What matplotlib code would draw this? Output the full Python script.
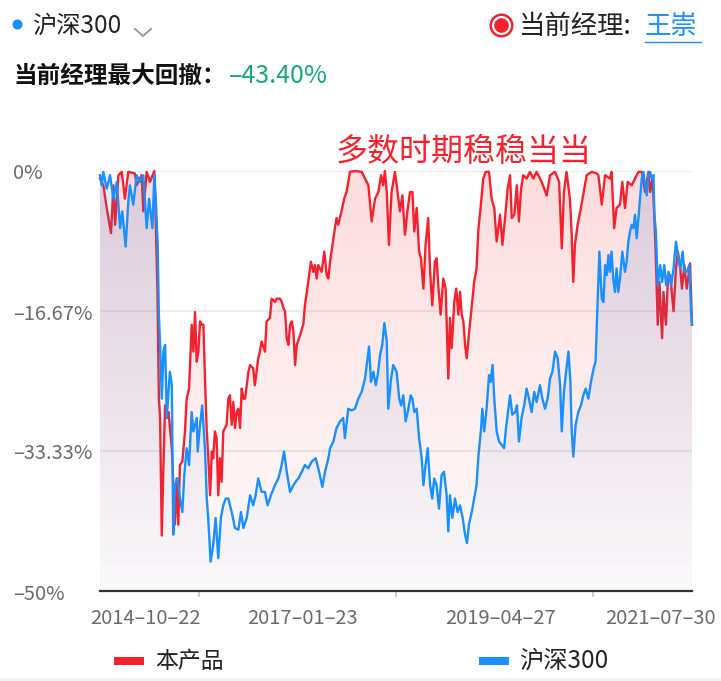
import numpy as np
import pandas as pd
import matplotlib
matplotlib.use("Agg")
import matplotlib.pyplot as plt
import matplotlib.dates as mdates
import matplotlib.transforms as mtrans
from matplotlib.patches import PathPatch, Rectangle
from matplotlib.lines import Line2D

plt.rcParams['font.family'] = ['Noto Sans CJK SC', 'DejaVu Sans']

# ---- data: drawdown (%) vs. days since 2014-10-22 ----
start_date = "2014-10-22"
end_date = "2021-07-30"

red_day = [0, 14, 28, 46, 56, 63, 77, 91, 104, 118,
           146, 153, 174, 181, 195, 209, 227, 234, 240, 246,
           251, 258, 265, 272, 279, 286, 300, 313, 320, 327,
           334, 344, 355, 362, 372, 383, 390, 397, 404, 411,
           418, 425, 432, 439, 446, 452, 460, 467, 473, 480,
           487, 494, 501, 508, 515, 522, 529, 536, 543, 550,
           557, 564, 571, 578, 585, 592, 599, 606, 613, 620,
           627, 640, 647, 654, 661, 668, 675, 689, 696, 710,
           717, 731, 738, 752, 759, 766, 773, 780, 787, 794,
           801, 808, 815, 822, 836, 849, 856, 870, 881, 891,
           898, 905, 912, 926, 937, 947, 954, 961, 975, 988,
           995, 1009, 1020, 1030, 1044, 1065, 1093, 1107, 1121, 1135,
           1149, 1163, 1174, 1183, 1190, 1198, 1207, 1218, 1232, 1243,
           1253, 1263, 1274, 1284, 1295, 1305, 1313, 1323, 1333, 1341,
           1351, 1360, 1371, 1379, 1388, 1399, 1406, 1413, 1423, 1434,
           1444, 1455, 1462, 1469, 1480, 1488, 1497, 1504, 1511, 1518,
           1525, 1532, 1541, 1553, 1563, 1573, 1580, 1592, 1601, 1611,
           1625, 1636, 1647, 1657, 1671, 1681, 1692, 1703, 1713, 1720,
           1731, 1741, 1750, 1759, 1768, 1782, 1796, 1810, 1824, 1845,
           1866, 1880, 1901, 1918, 1929, 1938, 1949, 1963, 1970, 1977,
           1984, 1995, 2009, 2023, 2033, 2054, 2075, 2082, 2096, 2110,
           2130, 2137, 2148, 2158, 2172, 2182, 2193, 2204, 2221, 2235,
           2249, 2263, 2277, 2291, 2298, 2308, 2316, 2322, 2330, 2337,
           2348, 2354, 2364, 2372, 2382, 2396, 2406, 2414, 2424, 2431,
           2441, 2451, 2465, 2473]
red_dd = [-0.9, -1.7, -4.4, -7.4, -1.7, -6.4, -0.5, -0.1, -3.3, -0.1,
          -0.3, -1.7, -0.5, -4.8, -0.1, -1.3, 0.0, -7.2, -14.4, -27.1,
          -29.4, -43.4, -35.0, -27.9, -29.4, -28.7, -33.0, -42.1, -36.6, -42.1,
          -35.0, -34.6, -31.0, -27.1, -25.9, -18.3, -21.5, -16.8, -22.7, -21.5,
          -17.9, -18.3, -18.3, -25.1, -31.0, -33.8, -38.6, -33.4, -34.2, -31.0,
          -31.8, -38.6, -34.2, -37.0, -31.0, -30.6, -30.2, -27.1, -26.7, -30.2,
          -27.5, -30.6, -28.7, -28.3, -30.6, -25.9, -27.1, -27.1, -25.5, -23.9,
          -23.1, -23.5, -25.5, -23.9, -22.3, -21.5, -20.3, -21.5, -17.9, -17.5,
          -15.2, -15.6, -15.2, -15.2, -15.6, -16.3, -16.7, -19.9, -20.7, -18.3,
          -17.9, -19.1, -23.1, -20.7, -19.5, -18.3, -16.0, -13.2, -10.8, -12.0,
          -11.2, -12.8, -11.2, -12.0, -9.6, -12.4, -12.8, -10.8, -8.0, -5.6,
          -6.4, -4.8, -3.3, -2.5, -0.1, 0.0, -0.1, -0.9, -1.7, -6.0,
          -3.3, -2.5, -0.5, -1.7, 0.0, -2.5, -8.8, -2.5, -0.1, -2.5,
          -4.8, -2.9, -7.6, -4.8, -2.5, -2.5, -7.2, -4.4, -9.6, -10.4,
          -14.0, -8.8, -5.6, -12.0, -16.0, -10.8, -10.4, -13.6, -17.1, -12.8,
          -14.0, -24.7, -17.5, -21.1, -15.6, -14.0, -17.1, -14.4, -17.1, -17.9,
          -20.7, -22.3, -19.5, -16.0, -13.2, -11.6, -7.2, -3.7, -0.9, -0.1,
          -0.1, -3.3, -4.4, -8.4, -5.2, -8.8, -5.6, -2.1, -0.5, -5.6,
          -5.2, -1.7, -6.0, -2.1, -0.5, -0.9, -0.1, -0.9, -0.1, -1.3,
          -2.9, -0.5, -0.1, -1.3, -9.2, -2.5, -0.1, -3.3, -7.2, -13.2,
          -8.8, -6.4, -4.4, -2.1, -0.5, -0.1, -0.3, -0.5, -4.0, -0.5,
          -0.9, -0.1, -6.8, -4.4, -4.0, -1.3, -4.4, -1.3, -1.7, -0.9,
          -0.1, -0.1, -2.5, -0.1, -2.5, -0.9, -5.6, -10.4, -18.3, -13.2,
          -19.9, -14.4, -18.3, -13.2, -12.4, -16.7, -11.6, -9.6, -11.6, -14.0,
          -11.2, -14.0, -11.0, -18.3]

blue_day = [0, 7, 14, 28, 42, 56, 70, 84, 93, 107,
            118, 125, 139, 153, 167, 181, 195, 205, 219, 227,
            233, 241, 246, 252, 258, 265, 272, 279, 286, 292,
            300, 306, 313, 324, 334, 344, 352, 362, 372, 383,
            390, 404, 408, 418, 427, 439, 446, 452, 462, 473,
            483, 494, 505, 515, 525, 536, 550, 564, 578, 589,
            599, 613, 627, 640, 650, 661, 675, 689, 700, 714,
            731, 745, 756, 769, 780, 794, 808, 822, 829, 843,
            856, 870, 884, 901, 912, 929, 940, 954, 961, 975,
            988, 1003, 1016, 1023, 1037, 1051, 1065, 1079, 1093, 1107,
            1114, 1124, 1132, 1142, 1152, 1160, 1170, 1179, 1188, 1198,
            1204, 1216, 1225, 1239, 1250, 1258, 1267, 1277, 1288, 1298,
            1305, 1313, 1323, 1333, 1344, 1351, 1360, 1369, 1379, 1388,
            1396, 1406, 1416, 1427, 1437, 1448, 1455, 1462, 1472, 1483,
            1494, 1504, 1515, 1525, 1533, 1541, 1553, 1563, 1573, 1580,
            1592, 1597, 1605, 1615, 1625, 1632, 1640, 1647, 1657, 1667,
            1678, 1688, 1696, 1706, 1713, 1722, 1734, 1742, 1750, 1761,
            1772, 1782, 1792, 1803, 1814, 1824, 1838, 1848, 1859, 1870,
            1880, 1890, 1901, 1912, 1922, 1929, 1938, 1947, 1957, 1965,
            1970, 1977, 1987, 1998, 2009, 2019, 2029, 2040, 2051, 2062,
            2070, 2079, 2086, 2096, 2103, 2110, 2117, 2124, 2130, 2137,
            2144, 2151, 2158, 2165, 2172, 2182, 2193, 2200, 2207, 2214,
            2221, 2228, 2235, 2242, 2249, 2263, 2270, 2277, 2284, 2291,
            2298, 2305, 2312, 2316, 2322, 2330, 2340, 2348, 2357, 2365,
            2375, 2386, 2396, 2406, 2414, 2424, 2434, 2441, 2451, 2462,
            2469, 2473]
blue_dd = [-0.5, -1.7, -0.1, -2.1, -0.5, -3.3, -1.3, -6.8, -4.8, -9.0,
           -3.7, -1.7, -4.0, -0.5, -1.3, -0.5, -6.8, -3.3, -6.8, -0.5,
           -3.3, -8.8, -17.1, -21.5, -27.1, -21.5, -20.7, -29.4, -26.3, -23.9,
           -25.5, -43.3, -37.4, -36.6, -39.0, -40.6, -36.2, -33.0, -35.0, -28.7,
           -31.0, -29.4, -33.4, -30.2, -27.9, -33.4, -39.0, -41.3, -46.5, -44.5,
           -41.3, -46.1, -41.3, -39.8, -39.0, -39.0, -40.6, -42.5, -42.7, -40.6,
           -42.5, -41.3, -38.6, -39.8, -38.6, -36.6, -38.2, -38.2, -39.8, -38.6,
           -37.4, -36.6, -35.4, -33.4, -35.8, -38.2, -37.4, -36.8, -36.6, -35.8,
           -35.0, -35.4, -34.6, -34.2, -35.4, -37.6, -35.8, -34.2, -33.0, -32.2,
           -30.6, -29.8, -29.4, -31.8, -28.3, -28.5, -28.3, -27.1, -26.3, -24.7,
           -23.1, -20.9, -25.1, -23.9, -25.5, -24.3, -21.9, -20.7, -18.1, -20.3,
           -28.3, -24.7, -23.1, -23.9, -27.1, -27.9, -26.7, -29.8, -28.3, -26.7,
           -27.1, -28.7, -28.3, -31.8, -34.2, -37.4, -35.0, -33.0, -37.4, -39.0,
           -36.6, -37.4, -40.2, -36.2, -35.8, -38.6, -42.9, -38.6, -41.3, -39.0,
           -40.6, -39.8, -41.3, -43.3, -44.3, -42.1, -40.6, -39.0, -37.4, -34.2,
           -30.6, -28.3, -31.0, -28.3, -24.3, -25.1, -23.1, -27.1, -31.0, -32.2,
           -32.6, -33.0, -30.6, -28.3, -26.7, -29.0, -28.7, -27.9, -32.2, -29.4,
           -27.9, -25.9, -27.1, -28.7, -26.3, -27.5, -25.5, -27.1, -28.3, -27.1,
           -24.7, -23.9, -21.5, -22.3, -25.5, -31.0, -26.3, -23.9, -21.5, -25.1,
           -30.6, -34.0, -30.2, -28.7, -27.9, -26.7, -25.9, -27.1, -25.1, -23.5,
           -22.7, -15.2, -9.6, -15.2, -15.6, -11.2, -12.4, -10.0, -12.0, -9.6,
           -12.8, -14.4, -11.6, -14.4, -12.8, -9.6, -12.0, -10.8, -8.4, -7.2,
           -6.4, -6.8, -5.2, -8.0, -5.6, -0.9, -0.1, -1.7, -2.9, -0.5,
           -0.1, -0.9, -0.5, -5.2, -7.2, -13.6, -11.2, -13.2, -11.2, -13.6,
           -12.0, -13.6, -11.6, -8.4, -10.0, -11.6, -9.6, -12.0, -12.0, -11.2,
           -16.7, -18.3]

y_ticks = [0, -16.67, -33.33, -50]
y_tick_labels = ["0%", "–16.67%", "–33.33%", "–50%"]
x_tick_labels = ["2014–10–22", "2017–01–23", "2019–04–27", "2021–07–30"]
series_names = ["本产品", "沪深300"]
max_dd_text = "–43.40%"

RED = "#f5222d"
BLUE = "#1890ff"
GREY_TXT = "#6b6b6b"

W, H = 721, 681


def fx(x):
    return x / W


def fy(y):
    return 1 - y / H


start = pd.Timestamp(start_date)
end = pd.Timestamp(end_date)
red_x = mdates.date2num(start + pd.to_timedelta(red_day, unit="D"))
blue_x = mdates.date2num(start + pd.to_timedelta(blue_day, unit="D"))
x0, x1 = mdates.date2num(start), mdates.date2num(end)

fig = plt.figure(figsize=(W / 100, H / 100), dpi=100)
ax = fig.add_axes([fx(100), fy(591), 592 / W, 420 / H])


def gradient_fill(x, y, rgb, a_top, a_bot, z):
    poly = ax.fill_between(x, y, -50, facecolor="none", edgecolor="none")
    path = poly.get_paths()[0]
    patch = PathPatch(path, transform=ax.transData, facecolor="none", edgecolor="none")
    ax.add_patch(patch)
    grad = np.zeros((256, 1, 4))
    grad[..., :3] = matplotlib.colors.to_rgb(rgb)
    grad[..., 3] = np.linspace(a_top, a_bot, 256)[:, None]
    im = ax.imshow(grad, aspect="auto", extent=[x0, x1, -50, 0], origin="upper", zorder=z)
    im.set_clip_path(patch)


for yv in y_ticks[:-1]:
    ax.axhline(yv, color="#ececec", lw=1.5, zorder=0.5)

gradient_fill(red_x, red_dd, RED, 0.16, 0.015, 1)
ax.plot(red_x, red_dd, color=RED, lw=1.7, zorder=2, clip_on=False, solid_joinstyle="round")
gradient_fill(blue_x, blue_dd, "#1f6fd0", 0.15, 0.015, 3)
ax.plot(blue_x, blue_dd, color=BLUE, lw=1.7, zorder=4, clip_on=False, solid_joinstyle="round")

ax.set_xlim(x0, x1)
ax.set_ylim(-50, 0)
for s in ["top", "right", "left"]:
    ax.spines[s].set_visible(False)
ax.spines["bottom"].set_color("#333333")
ax.spines["bottom"].set_linewidth(1.6)
ax.spines["bottom"].set_zorder(5)
ax.set_yticks([])
span = x1 - x0
ax.set_xticks([x0 + span / 6, x0 + span / 2, x0 + 5 * span / 6])
ax.set_xticklabels([])
ax.tick_params(axis="x", length=4, width=1.4, color="#cccccc")

# y tick labels (left aligned)
ytr = mtrans.blended_transform_factory(fig.transFigure, ax.transData)
for yv, lab in zip(y_ticks, y_tick_labels):
    ax.text(fx(13), yv, lab, transform=mtrans.offset_copy(ytr, fig=fig, y=-3, units="dots"),
            ha="left", va="center", fontsize=14.5, color=GREY_TXT)

# x tick labels
xtr = mtrans.blended_transform_factory(ax.transData, fig.transFigure)
label_pos = [x0, x0 + span / 3, x0 + 2 * span / 3, x1]
label_align = [("left", -10), ("center", 5), ("center", 6), ("right", 24)]
for xv, lab, (ha, off) in zip(label_pos, x_tick_labels, label_align):
    ax.text(xv, fy(619), lab, transform=mtrans.offset_copy(xtr, fig=fig, x=off, units="dots"),
            ha=ha, va="center", fontsize=14.5, color=GREY_TXT, clip_on=False)

# legend
fig.patches.append(Rectangle((fx(114), fy(665)), 30 / W, 8 / H, transform=fig.transFigure,
                             facecolor=RED, edgecolor="none"))
fig.text(fx(155), fy(661), series_names[0], ha="left", va="center", fontsize=16.5, color="#222222")
fig.patches.append(Rectangle((fx(479), fy(665)), 30 / W, 8 / H, transform=fig.transFigure,
                             facecolor=BLUE, edgecolor="none"))
fig.text(fx(519), fy(661), series_names[1], ha="left", va="center", fontsize=17.5, color="#222222")
fig.patches.append(Rectangle((0, 0), 1, 3 / H, transform=fig.transFigure,
                             facecolor="#f2f2f2", edgecolor="none"))

# annotation
fig.text(fx(336), fy(152), "多数时期稳稳当当", ha="left", va="center", fontsize=23, color=RED)

# header
fig.add_artist(Line2D([fx(17)], [fy(24)], marker="o", markersize=6.2, color=BLUE,
                      transform=fig.transFigure, linestyle="none"))
fig.text(fx(32), fy(26), series_names[1], ha="left", va="center", fontsize=17.5, color="#222222")
fig.add_artist(Line2D([fx(135), fx(143), fx(151)], [fy(29), fy(36), fy(29)], color="#9a9a9a",
                      lw=1.4, transform=fig.transFigure))

fig.add_artist(Line2D([fx(501)], [fy(25)], marker="o", markersize=15.5, markerfacecolor="white",
                      markeredgecolor=RED, markeredgewidth=1.8, transform=fig.transFigure,
                      linestyle="none"))
fig.add_artist(Line2D([fx(501)], [fy(25)], marker="o", markersize=9.5, color=RED,
                      transform=fig.transFigure, linestyle="none"))
fig.text(fx(519), fy(26), "当前经理:", ha="left", va="center", fontsize=19, color="#222222")
fig.text(fx(645), fy(26), "王崇", ha="left", va="center", fontsize=19, color=BLUE)
fig.add_artist(Line2D([fx(645), fx(701)], [fy(42), fy(42)], color=BLUE, lw=1.0,
                      transform=fig.transFigure))

fig.text(fx(13), fy(76), "当前经理最大回撤：", ha="left", va="center", fontsize=17,
         fontweight="bold", color="#111111")
fig.text(fx(229), fy(76), max_dd_text, ha="left", va="center", fontsize=18, color="#19a974")

fig.savefig("out.png", dpi=100)
